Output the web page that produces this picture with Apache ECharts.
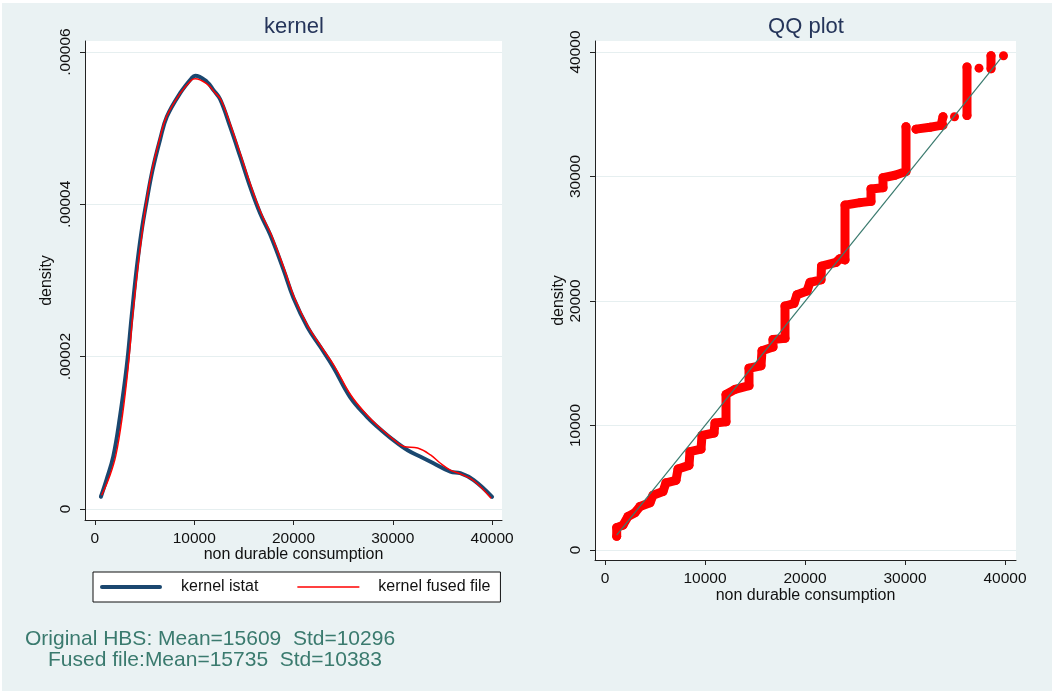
<!DOCTYPE html>
<html><head><meta charset="utf-8">
<script src="https://cdn.jsdelivr.net/npm/echarts@6/dist/echarts.min.js"></script>
<style>
html,body{margin:0;padding:0;background:#fff;}
#bg{position:absolute;left:2px;top:3px;width:1050px;height:688px;background:#EAF2F3;}
#chart{position:absolute;left:0;top:0;width:1056px;height:693px;}
</style></head><body>
<div id="bg"></div><div id="chart"></div>
<script>
// ---- data ----
var xTicks = [0, 10000, 20000, 30000, 40000];
var kernelYTicks = [0, 0.00002, 0.00004, 0.00006];
var kernelYLabels = ['0', '.00002', '.00004', '.00006'];
var qqYTicks = [0, 10000, 20000, 30000, 40000];

var istatX = [600, 1180, 1850, 2520, 3200, 3700, 4200, 4700, 5220, 5800, 6560, 7240, 8580, 9760, 10100, 11270, 11940, 12610, 13620, 14630, 15640, 16650, 17660, 19000, 20000, 21400, 22700, 24000, 25700, 27400, 28450, 30000, 31500, 32800, 34100, 35800, 36800, 38150, 40000];
var istatY = [1.6e-6, 3.9e-6, 6.9e-6, 1.21e-5, 1.87e-5, 2.53e-5, 3.15e-5, 3.65e-5, 4.05e-5, 4.45e-5, 4.85e-5, 5.15e-5, 5.46e-5, 5.66e-5, 5.69e-5, 5.61e-5, 5.50e-5, 5.38e-5, 5.02e-5, 4.63e-5, 4.23e-5, 3.88e-5, 3.60e-5, 3.14e-5, 2.77e-5, 2.39e-5, 2.13e-5, 1.865e-5, 1.47e-5, 1.21e-5, 1.08e-5, 9.1e-6, 7.7e-6, 6.85e-6, 6.0e-6, 4.9e-6, 4.7e-6, 3.8e-6, 1.6e-6];

var fusedX = [680, 1510, 2100, 2750, 3350, 3800, 4300, 4780, 5200, 5750, 6500, 7200, 8550, 9700, 10100, 11300, 12000, 12700, 13720, 14730, 15740, 16750, 17760, 19100, 20100, 21500, 22800, 24100, 25800, 27500, 28500, 30000, 31100, 32500, 33800, 34800, 35800, 36800, 38150, 39900];
var fusedY = [1.8e-6, 4.4e-6, 7.0e-6, 1.21e-5, 1.87e-5, 2.53e-5, 3.15e-5, 3.65e-5, 4.05e-5, 4.45e-5, 4.85e-5, 5.15e-5, 5.45e-5, 5.63e-5, 5.65e-5, 5.58e-5, 5.48e-5, 5.37e-5, 5.02e-5, 4.63e-5, 4.23e-5, 3.88e-5, 3.60e-5, 3.14e-5, 2.77e-5, 2.39e-5, 2.13e-5, 1.88e-5, 1.49e-5, 1.22e-5, 1.09e-5, 9.2e-6, 8.2e-6, 8.0e-6, 7.1e-6, 6.0e-6, 5.1e-6, 4.6e-6, 3.7e-6, 1.4e-6];

// QQ plot quantile path (null = gap between point groups)
var qqX = [1170, 1170, 1800, 2300, 3000, 3500, 4500, 4800, 5800, 6100, 7100, 7300, 8400, 8500, 9600, 9700, 10900, 11000, 12100, 12100, 13000, 14400, 14400, 15600, 15700, 16800, 16800, 18000, 18000, 18900, 19200, 20200, 20500, 21600, 21650, 23100, 23500, 24000, 24000, 25500, 26600, 26600, 27800, 27800, 29000, 30100, 30100,
  null, 31100, 32500, 33600, 33800, 33800,
  null, 34950,
  null, 36200, 36200,
  null, 37400,
  null, 38600, 38600,
  null, 39850];
var qqY = [1100, 1800, 2000, 2700, 3000, 3500, 3800, 4400, 4700, 5400, 5600, 6500, 6800, 7900, 8100, 9200, 9400, 10200, 10300, 12500, 12900, 13200, 14600, 14800, 16000, 16300, 16900, 17000, 19600, 19800, 20500, 20800, 21500, 21700, 22800, 23100, 23400, 23300, 27700, 27900, 28000, 29000, 29100, 29900, 30100, 30400, 34000,
  null, 33800, 33950, 34100, 34100, 34800,
  null, 34800,
  null, 34900, 38800,
  null, 38700,
  null, 38650, 39700,
  null, 39700];

var qqLineX = [1170, 39600];
var qqLineY = [1200, 39500];

var notes = ['Original HBS: Mean=15609  Std=10296', 'Fused file:Mean=15735  Std=10383'];

// ---- build ----
var FONT = "'Liberation Sans', Arial, Helvetica, sans-serif";
function pairs(xs, ys) { return xs.map(function (x, i) { return (x === null) ? ['-', '-'] : [x, ys[i]]; }); }

var axisLineStyle = { color: '#222', width: 1 };
var gridLineColor = '#E6EFF0';

function xAxisCfg(idx, min, max, gap) {
  return {
    type: 'value', gridIndex: idx, min: min, max: max,
    axisLine: { show: true, onZero: false, lineStyle: axisLineStyle },
    axisTick: { show: true, length: 5, lineStyle: axisLineStyle, customValues: xTicks },
    axisLabel: { customValues: xTicks, margin: 11, fontSize: 15.5, color: '#111', fontFamily: FONT,
      formatter: function (v) { return String(Math.round(v)); } },
    splitLine: { show: false },
    name: 'non durable consumption', nameLocation: 'middle', nameGap: gap, nameMoveOverlap: false,
    nameTextStyle: { fontSize: 16, color: '#111', fontFamily: FONT }
  };
}
function yAxisCfg(idx, min, max, ticks, fmt, gap) {
  return {
    type: 'value', gridIndex: idx, min: min, max: max,
    axisLine: { show: true, onZero: false, lineStyle: axisLineStyle },
    axisTick: { show: true, length: 5, lineStyle: axisLineStyle, customValues: ticks },
    axisLabel: { customValues: ticks, rotate: 90, margin: 11, fontSize: 15.5, color: '#111', fontFamily: FONT, formatter: fmt },
    splitLine: { show: true, lineStyle: { color: gridLineColor, width: 1 } },
    name: 'density', nameLocation: 'middle', nameGap: gap, nameRotate: 90, nameMoveOverlap: false,
    nameTextStyle: { fontSize: 16, color: '#111', fontFamily: FONT }
  };
}

var chart = echarts.init(document.getElementById('chart'), null, { renderer: 'canvas' });
chart.setOption({
  animation: false,
  title: [
    { text: 'kernel', left: 294, top: 16, textAlign: 'center', padding: 0, textStyle: { fontSize: 22, fontWeight: 'normal', color: '#25355A', fontFamily: FONT } },
    { text: 'QQ plot', left: 806, top: 16, textAlign: 'center', padding: 0, textStyle: { fontSize: 22, fontWeight: 'normal', color: '#25355A', fontFamily: FONT } }
  ],
  grid: [
    { left: 85, top: 41, width: 417, height: 479, show: true, backgroundColor: '#fff', borderWidth: 0, containLabel: false },
    { left: 595, top: 41, width: 421, height: 519, show: true, backgroundColor: '#fff', borderWidth: 0, containLabel: false }
  ],
  xAxis: [xAxisCfg(0, -1000, 41000, 27), xAxisCfg(1, -1000, 41100, 28)],
  yAxis: [
    yAxisCfg(0, -1.45e-6, 6.145e-5, kernelYTicks, function (v) {
      var i = kernelYTicks.findIndex(function (t) { return Math.abs(t - v) < 1e-9; });
      return i >= 0 ? kernelYLabels[i] : '';
    }, 30),
    yAxisCfg(1, -800, 40880, qqYTicks, function (v) { return String(Math.round(v)); }, 28)
  ],
  legend: {
    left: 93, top: 572, orient: 'horizontal',
    padding: [7, 10, 7, 7], itemGap: 39, itemWidth: 62, itemHeight: 14,
    backgroundColor: '#fff', borderColor: '#111', borderWidth: 1, borderRadius: 0,
    symbolKeepAspect: true,
    textStyle: { fontSize: 16, color: '#111', fontFamily: FONT, padding: [0, 0, 0, 14] },
    data: [
      { name: 'kernel istat', icon: 'path://M2,0H60A2,2 0 0 1 60,4H2A2,2 0 0 1 2,0Z' },
      { name: 'kernel fused file', icon: 'path://M0,0H62V1.5H0Z' }
    ],
    selectedMode: false
  },
  graphic: [
    { type: 'text', left: 25, top: 629, silent: true, style: { text: notes[0], fill: '#3A7A6E', font: '21px ' + FONT } },
    { type: 'text', left: 48, top: 650, silent: true, style: { text: notes[1], fill: '#3A7A6E', font: '21px ' + FONT } }
  ],
  series: [
    { name: 'kernel istat', type: 'line', xAxisIndex: 0, yAxisIndex: 0, data: pairs(istatX, istatY), smooth: 0.4, symbol: 'none', silent: true,
      lineStyle: { color: '#1A476F', width: 4, cap: 'round', join: 'round' }, itemStyle: { color: '#1A476F' }, z: 2 },
    { name: 'kernel fused file', type: 'line', xAxisIndex: 0, yAxisIndex: 0, data: pairs(fusedX, fusedY), smooth: 0.4, symbol: 'none', silent: true,
      lineStyle: { color: '#FF0000', width: 1.5 }, itemStyle: { color: '#FF0000' }, z: 3 },
    { name: 'qq', type: 'line', xAxisIndex: 1, yAxisIndex: 1, data: pairs(qqX, qqY), connectNulls: false, showSymbol: true, symbol: 'circle', symbolSize: 9, silent: true,
      lineStyle: { color: '#FF0000', width: 9, cap: 'round', join: 'round' }, itemStyle: { color: '#FF0000' }, z: 2 },
    { name: 'qqline', type: 'line', xAxisIndex: 1, yAxisIndex: 1, data: pairs(qqLineX, qqLineY), symbol: 'none', silent: true,
      lineStyle: { color: '#3A7A6E', width: 1.2 }, z: 4 }
  ]
});
</script></body></html>
